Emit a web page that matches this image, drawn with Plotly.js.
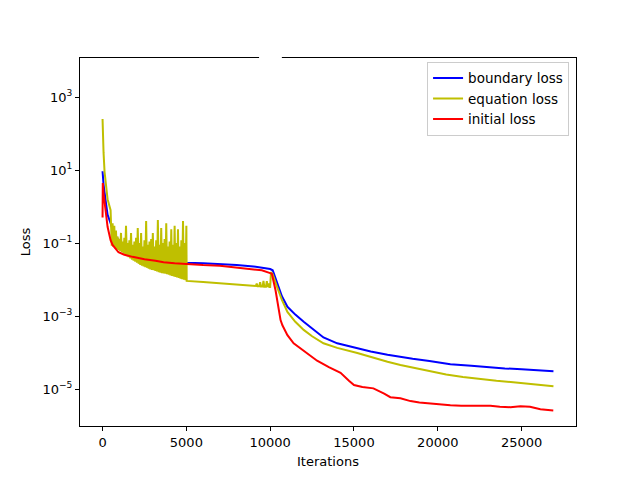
<!DOCTYPE html>
<html>
<head>
<meta charset="utf-8">
<script src="https://cdn.plot.ly/plotly-3.0.1.min.js"></script>
<style>html,body{margin:0;padding:0;background:#fff;}#chart{width:640px;height:480px;}</style>
</head>
<body>
<div id="chart"></div>
<script>
// ---- data ----
const boundaryIter = [0, 60, 180, 300, 480, 660, 1000, 1500, 2000, 2500, 3000, 3500, 4000, 4500, 5000,
  6000, 7000, 8000, 9000, 9500, 10000, 10150, 10400, 10700, 11030, 11500, 12000, 12500, 13180, 14000,
  15200, 16000, 17000, 17770, 18500, 19500, 20750, 22000, 23000, 24000, 25000, 26000, 26900];
const boundaryLoss = [9.3, 4, 1.5, 0.6, 0.35, 0.19, 0.11, 0.075, 0.058, 0.048, 0.041, 0.037, 0.034, 0.031, 0.029,
  0.028, 0.027, 0.025, 0.023, 0.021, 0.0195, 0.018, 0.008, 0.0035, 0.0018, 0.0011, 7e-4, 4.5e-4, 2.6e-4, 1.8e-4,
  1.3e-4, 1.08e-4, 8.8e-5, 7.6e-5, 6.8e-5, 5.9e-5, 4.8e-5, 4.4e-5, 4.0e-5, 3.7e-5, 3.5e-5, 3.3e-5, 3.1e-5];

const equationIter = [0, 30, 60, 120, 180, 300, 480,
  500, 550, 600, 650, 700, 750, 800, 850, 900, 950,
  1000, 1050, 1100, 1150, 1200, 1250, 1300, 1350, 1400, 1450,
  1500, 1550, 1600, 1650, 1700, 1750, 1800, 1850, 1900, 1950,
  2000, 2050, 2100, 2150, 2200, 2250, 2300, 2350, 2400, 2450,
  2500, 2550, 2600, 2650, 2700, 2750, 2800, 2850, 2900, 2950,
  3000, 3050, 3100, 3150, 3200, 3250, 3300, 3350, 3400, 3450,
  3500, 3550, 3600, 3650, 3700, 3750, 3800, 3850, 3900, 3950,
  4000, 4050, 4100, 4150, 4200, 4250, 4300, 4350, 4400, 4450,
  4500, 4550, 4600, 4650, 4700, 4750, 4800, 4850, 4900, 4950,
  5000, 5020, 6000, 7000, 8000, 8500, 9000, 9150, 9200, 9250, 9350, 9400, 9450, 9550, 9600,
  9650, 9750, 9800, 9850, 9900, 9950, 10000, 10050, 10150, 10400, 10700, 11030, 11500, 12000,
  12500, 13180, 14000, 15200, 16000, 17000, 17770, 18500, 19560, 20500, 21500, 22540, 23500,
  24500, 25500, 26900];
const equationLoss = [250, 60, 30, 9, 4.4, 1.6, 0.8,
  0.3, 0.085, 0.35, 0.078, 0.3, 0.072, 0.22, 0.068, 0.15, 0.064,
  0.13, 0.06, 0.19, 0.056, 0.11, 0.052, 0.14, 0.048, 0.3, 0.044,
  0.1, 0.041, 0.12, 0.038, 0.19, 0.035, 0.09, 0.033, 0.11, 0.031,
  0.14, 0.029, 0.26, 0.027, 0.1, 0.025, 0.19, 0.024, 0.08, 0.023,
  0.12, 0.022, 0.4, 0.021, 0.09, 0.02, 0.11, 0.019, 0.13, 0.0185,
  0.19, 0.018, 0.08, 0.0172, 0.12, 0.0166, 0.43, 0.016, 0.09, 0.0155,
  0.26, 0.015, 0.1, 0.0148, 0.13, 0.0145, 0.35, 0.014, 0.08, 0.0135,
  0.11, 0.013, 0.24, 0.0126, 0.09, 0.0122, 0.3, 0.0118, 0.1, 0.0114,
  0.24, 0.011, 0.08, 0.0106, 0.12, 0.0102, 0.4, 0.0099, 0.1, 0.0096,
  0.3, 0.0092, 0.0086, 0.008, 0.0075, 0.0072, 0.0068, 0.0067, 0.0078, 0.0066, 0.0066, 0.0085, 0.0065, 0.0065, 0.0092,
  0.0064, 0.0064, 0.009, 0.0063, 0.0078, 0.0063, 0.0063, 0.016, 0.014, 0.0065, 0.0028, 0.0013, 7e-4, 4.2e-4,
  2.8e-4, 1.8e-4, 1.35e-4, 9.8e-5, 7.6e-5, 5.6e-5, 4.6e-5, 3.9e-5, 3.0e-5, 2.5e-5, 2.15e-5, 1.86e-5, 1.7e-5,
  1.55e-5, 1.4e-5, 1.2e-5];

const initialIter = [0, 15, 60, 180, 300, 480, 600, 950, 1300, 1790, 2500, 3160, 3640, 4300, 5130,
  6000, 7000, 8230, 9000, 9500, 10000, 10100, 10320, 10620, 10730, 11030, 11400, 12000, 12400, 12800,
  13500, 14200, 14700, 15000, 15500, 16160, 16800, 17170, 17770, 18370, 18900, 19500, 20100, 20750,
  21400, 22000, 22600, 23140, 23700, 24330, 24930, 25500, 26120, 26500, 26890];
const initialLoss = [0.5, 4.4, 2.3, 0.66, 0.28, 0.12, 0.089, 0.056, 0.048, 0.042, 0.036, 0.033, 0.030, 0.028, 0.026,
  0.025, 0.024, 0.021, 0.019, 0.018, 0.015, 0.0145, 0.0051, 7.8e-4, 5.6e-4, 3e-4, 1.8e-4, 1.1e-4, 8e-5, 6e-5,
  4e-5, 2.8e-5, 1.7e-5, 1.3e-5, 1.15e-5, 1.05e-5, 7.5e-6, 6.0e-6, 5.6e-6, 4.7e-6, 4.3e-6, 4.0e-6, 3.8e-6, 3.6e-6,
  3.5e-6, 3.5e-6, 3.4e-6, 3.5e-6, 3.3e-6, 3.2e-6, 3.4e-6, 3.3e-6, 2.8e-6, 2.7e-6, 2.6e-6];

const seriesNames = ["boundary loss", "equation loss", "initial loss"];
const seriesColors = ["#0000ff", "#bfbf00", "#ff0000"];
const yTickVals = [1e-5, 1e-3, 1e-1, 1e1, 1e3];
const yTickText = ["10<sup>−5</sup>", "10<sup>−3</sup>", "10<sup>−1</sup>", "10<sup>1</sup>", "10<sup>3</sup>"];
const xTickVals = [0, 5000, 10000, 15000, 20000, 25000];

const xs = [boundaryIter, equationIter, initialIter];
const ys = [boundaryLoss, equationLoss, initialLoss];
const traces = seriesNames.map((n, i) => ({
  x: xs[i], y: ys[i], name: n, type: "scatter", mode: "lines",
  line: {color: seriesColors[i], width: 2}
}));

const font = {family: "DejaVu Sans, sans-serif", size: 13, color: "#000"};
const axisCommon = {
  showgrid: false, zeroline: false, showline: true, linecolor: "#000", linewidth: 1,
  mirror: true, ticks: "outside", ticklen: 4, tickwidth: 1, tickcolor: "#000",
  tickfont: font
};

const layout = {
  width: 640, height: 480,
  margin: {l: 80, r: 64, t: 58, b: 54},
  paper_bgcolor: "#fff", plot_bgcolor: "#fff",
  font: font,
  showlegend: true,
  legend: {x: 0.986, y: 0.99, xanchor: "right", yanchor: "top",
    bgcolor: "#fff", bordercolor: "#cccccc", borderwidth: 1, font: {family: font.family, size: 13.5, color: "#000"},
    tracegroupgap: 0},
  xaxis: Object.assign({}, axisCommon, {
    range: [-1345, 28245], tickvals: xTickVals, ticktext: xTickVals.map(String),
    title: {text: "Iterations", font: font, standoff: 8}
  }),
  yaxis: Object.assign({}, axisCommon, {
    type: "log", range: [-6.01, 4.07], tickvals: yTickVals, ticktext: yTickText,
    title: {text: "Loss", font: font, standoff: 8}
  }),
  shapes: [{type: "rect", xref: "paper", yref: "paper", x0: 0.361, x1: 0.407, y0: 0.993, y1: 1.007,
    fillcolor: "#fff", line: {width: 0}, layer: "above"}]
};

Plotly.newPlot("chart", traces, layout, {displayModeBar: false, staticPlot: true});
</script>
</body>
</html>
